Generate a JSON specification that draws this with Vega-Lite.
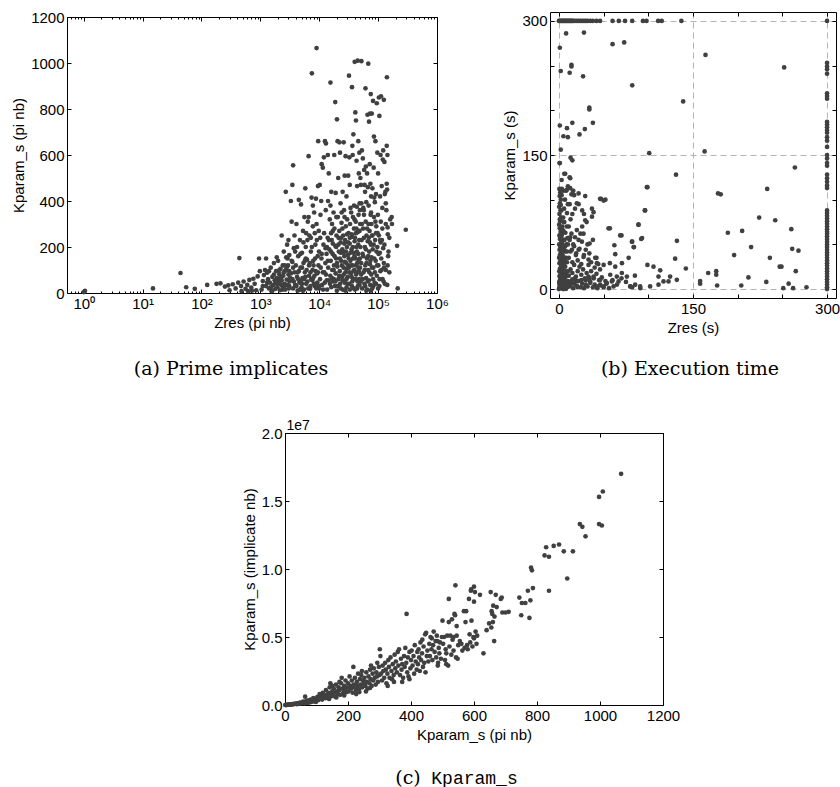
{
  "$schema": "https://vega.github.io/schema/vega-lite/v6.json",
  "background": "white",
  "padding": {"left": 11, "top": 9, "right": 0, "bottom": 0},
  "config": {
    "view": {"stroke": "#000", "strokeWidth": 1},
    "axis": {
      "domain": false, "grid": false, "tickColor": "#000", "tickWidth": 1, "tickSize": -4,
      "labelPadding": 7, "labelFont": "Liberation Sans", "labelFontSize": 15, "labelColor": "#000",
      "labelFlush": false, "labelOverlap": false,
      "titleFont": "Liberation Sans", "titleFontSize": 15, "titleFontWeight": "normal", "titleColor": "#000", "titlePadding": 4
    },
    "title": {"font": "DejaVu Serif", "fontSize": 19, "fontWeight": "normal", "color": "#000", "orient": "bottom", "anchor": "middle", "offset": 28}
  },
  "datasets": {
    "pa": [
      {"z":1,"k":4},{"z":1.05,"k":9},{"z":15,"k":20},{"z":44,"k":87},{"z":55,"k":25},{"z":77,"k":18},{"z":125,"k":35},{"z":180,"k":40},{"z":210,"k":42},{"z":250,"k":28},{"z":285,"k":33},{"z":300,"k":12},{"z":340,"k":38},{"z":380,"k":20},{"z":420,"k":45},{"z":440,"k":152},{"z":470,"k":30},{"z":520,"k":50},{"z":560,"k":18},{"z":600,"k":35},{"z":650,"k":57},{"z":700,"k":24},{"z":760,"k":62},{"z":800,"k":40},{"z":850,"k":12},{"z":900,"k":72},{"z":950,"k":150},{"z":980,"k":95},{"z":720,"k":10},{"z":620,"k":8},{"z":480,"k":8},
      {"z":1050,"k":15},{"z":1100,"k":52},{"z":1150,"k":78},{"z":1200,"k":100},{"z":1250,"k":30},{"z":1300,"k":88},{"z":1350,"k":60},{"z":1400,"k":20},{"z":1450,"k":45},{"z":1500,"k":110},{"z":1550,"k":8},{"z":1600,"k":70},{"z":1650,"k":35},{"z":1700,"k":130},{"z":1750,"k":55},{"z":1800,"k":18},{"z":1850,"k":95},{"z":1900,"k":65},{"z":1950,"k":25},{"z":2000,"k":140},{"z":2050,"k":48},{"z":2100,"k":82},{"z":2150,"k":12},{"z":2200,"k":105},{"z":2250,"k":62},{"z":2300,"k":250},{"z":2350,"k":30},{"z":2400,"k":120},{"z":2450,"k":75},{"z":2500,"k":180},{"z":2550,"k":40},{"z":2600,"k":95},{"z":2650,"k":15},{"z":2700,"k":440},{"z":2750,"k":155},{"z":2800,"k":58},{"z":2850,"k":210},{"z":2900,"k":35},{"z":2950,"k":120},{"z":3000,"k":80},{"z":3050,"k":20},{"z":3100,"k":165},{"z":3150,"k":50},{"z":1250,"k":150},{"z":1400,"k":95},{"z":1600,"k":10},{"z":1900,"k":155},{"z":2200,"k":38},{"z":2600,"k":120},{"z":3000,"k":230},{"z":1800,"k":50},{"z":2100,"k":60},{"z":2400,"k":15},{"z":2700,"k":100},{"z":3100,"k":95},
      {"z":1100,"k":30},{"z":1300,"k":45},{"z":1500,"k":25},{"z":1700,"k":80},{"z":1900,"k":40},{"z":2100,"k":100},{"z":2300,"k":55},{"z":2500,"k":90},{"z":2700,"k":35},{"z":2900,"k":150},{"z":3100,"k":30},
      {"z":3300,"k":400},{"z":3400,"k":310},{"z":3500,"k":470},{"z":3600,"k":555},{"z":3800,"k":250},{"z":3400,"k":140},{"z":3500,"k":60},{"z":3600,"k":20},{"z":3700,"k":195},{"z":3800,"k":90},{"z":3900,"k":35},{"z":4000,"k":120},{"z":4100,"k":300},{"z":4200,"k":70},{"z":4300,"k":10},{"z":4400,"k":160},{"z":4500,"k":405},{"z":4600,"k":45},{"z":4700,"k":230},{"z":4800,"k":110},{"z":4900,"k":385},{"z":5000,"k":25},{"z":5100,"k":175},{"z":5200,"k":65},{"z":5300,"k":270},{"z":5400,"k":130},{"z":5500,"k":15},{"z":5600,"k":330},{"z":5700,"k":90},{"z":5800,"k":455},{"z":5900,"k":200},{"z":6000,"k":40},{"z":6200,"k":145},{"z":6400,"k":310},{"z":6600,"k":595},{"z":6700,"k":75},{"z":6800,"k":250},{"z":7000,"k":18},{"z":7200,"k":180},{"z":7400,"k":415},{"z":7500,"k":955},{"z":7600,"k":55},{"z":7800,"k":290},{"z":8000,"k":120},{"z":8200,"k":350},{"z":8400,"k":30},{"z":8600,"k":210},{"z":8800,"k":410},{"z":9000,"k":1065},{"z":9200,"k":85},{"z":9400,"k":160},{"z":9600,"k":660},{"z":9800,"k":270},{"z":3300,"k":85},{"z":3700,"k":50},{"z":4100,"k":30},{"z":4500,"k":95},{"z":4900,"k":55},{"z":5300,"k":10},{"z":5700,"k":140},{"z":6100,"k":100},{"z":6500,"k":20},{"z":6900,"k":130},{"z":7300,"k":60},{"z":7700,"k":100},{"z":8100,"k":40},{"z":8500,"k":150},{"z":8900,"k":20},{"z":9300,"k":45},{"z":9700,"k":120},{"z":3600,"k":110},{"z":4200,"k":200},{"z":4800,"k":170},{"z":5400,"k":220},{"z":6000,"k":260},{"z":6600,"k":330},{"z":7200,"k":240},{"z":7800,"k":380},{"z":8400,"k":260},{"z":9000,"k":300},{"z":9500,"k":465},{"z":4400,"k":60},{"z":5100,"k":40},{"z":5800,"k":70},{"z":6300,"k":50},{"z":7100,"k":90},{"z":7900,"k":65},{"z":8700,"k":95},{"z":9900,"k":30},
      {"z":2200,"k":70},{"z":2500,"k":25},{"z":2800,"k":110},{"z":3200,"k":65},{"z":3500,"k":135},{"z":3900,"k":180},{"z":4300,"k":90},{"z":4700,"k":15},{"z":5100,"k":110},{"z":5500,"k":60},{"z":5900,"k":150},{"z":6300,"k":230},{"z":6700,"k":120},{"z":7100,"k":30},{"z":7500,"k":200},{"z":7900,"k":140},{"z":8300,"k":75},{"z":8700,"k":40},{"z":9100,"k":230},{"z":9500,"k":90},{"z":9900,"k":180},
      {"z":10200,"k":470},{"z":10500,"k":340},{"z":11000,"k":560},{"z":11500,"k":545},{"z":12000,"k":590},{"z":12500,"k":660},{"z":13000,"k":650},{"z":13500,"k":200},{"z":14000,"k":600},{"z":14500,"k":520},{"z":15500,"k":915},{"z":15500,"k":380},{"z":16000,"k":440},{"z":16500,"k":300},{"z":17000,"k":270},{"z":18000,"k":600},{"z":18700,"k":830},{"z":19000,"k":435},{"z":20000,"k":755},{"z":20500,"k":660},{"z":21000,"k":500},{"z":22000,"k":655},{"z":22500,"k":610},{"z":23000,"k":390},{"z":24000,"k":350},{"z":25000,"k":440},{"z":26000,"k":655},{"z":27000,"k":510},{"z":28000,"k":595},{"z":29000,"k":420},{"z":32000,"k":945},{"z":31000,"k":510},{"z":32500,"k":590},{"z":33000,"k":470},{"z":34000,"k":370},{"z":36000,"k":895},{"z":36500,"k":640},{"z":37000,"k":600},{"z":38000,"k":690},{"z":39000,"k":380},{"z":40000,"k":1005},{"z":41000,"k":785},{"z":42000,"k":750},{"z":43000,"k":575},{"z":44000,"k":465},{"z":45000,"k":1010},{"z":46000,"k":660},{"z":47000,"k":520},{"z":48000,"k":610},{"z":49000,"k":360},
      {"z":10000,"k":20},{"z":10300,"k":60},{"z":10600,"k":110},{"z":10900,"k":150},{"z":11200,"k":35},{"z":11500,"k":90},{"z":11800,"k":210},{"z":12100,"k":260},{"z":12400,"k":45},{"z":12700,"k":130},{"z":13000,"k":80},{"z":13300,"k":170},{"z":13600,"k":15},{"z":13900,"k":240},{"z":14200,"k":110},{"z":14500,"k":55},{"z":14800,"k":190},{"z":15100,"k":320},{"z":15400,"k":75},{"z":15700,"k":140},{"z":16000,"k":25},{"z":16300,"k":230},{"z":16600,"k":100},{"z":16900,"k":170},{"z":17200,"k":50},{"z":17500,"k":350},{"z":17800,"k":120},{"z":18100,"k":280},{"z":18400,"k":30},{"z":18700,"k":205},{"z":19000,"k":85},{"z":19300,"k":150},{"z":19600,"k":250},{"z":19900,"k":10},{"z":20300,"k":115},{"z":20700,"k":330},{"z":21100,"k":60},{"z":21500,"k":180},{"z":21900,"k":270},{"z":22300,"k":95},{"z":22700,"k":40},{"z":23100,"k":220},{"z":23500,"k":140},{"z":23900,"k":305},{"z":24300,"k":70},{"z":24700,"k":190},{"z":25100,"k":15},{"z":25500,"k":250},{"z":25900,"k":110},{"z":26300,"k":360},{"z":26700,"k":160},{"z":27100,"k":45},{"z":27500,"k":230},{"z":27900,"k":90},{"z":28300,"k":290},{"z":28700,"k":130},{"z":29100,"k":25},{"z":29500,"k":200},{"z":29900,"k":320},{"z":30400,"k":70},{"z":30900,"k":165},{"z":31400,"k":260},{"z":31900,"k":110},{"z":32400,"k":40},{"z":32900,"k":215},{"z":33400,"k":300},{"z":33900,"k":140},{"z":34400,"k":85},{"z":34900,"k":350},{"z":35400,"k":190},{"z":35900,"k":30},{"z":36400,"k":245},{"z":36900,"k":120},{"z":37400,"k":330},{"z":37900,"k":60},{"z":38400,"k":175},{"z":38900,"k":280},{"z":39400,"k":100},{"z":39900,"k":225},{"z":40500,"k":15},{"z":41100,"k":150},{"z":41700,"k":310},{"z":42300,"k":80},{"z":42900,"k":200},{"z":43500,"k":375},{"z":44100,"k":130},{"z":44700,"k":50},{"z":45300,"k":265},{"z":45900,"k":170},{"z":46500,"k":340},{"z":47100,"k":95},{"z":47700,"k":230},{"z":48300,"k":35},{"z":48900,"k":150},{"z":49500,"k":300},{"z":10800,"k":400},{"z":12900,"k":360},{"z":14100,"k":400},{"z":15900,"k":260},{"z":17700,"k":60},{"z":19500,"k":330},{"z":21300,"k":240},{"z":22900,"k":175},{"z":24800,"k":280},{"z":26900,"k":330},{"z":28900,"k":60},{"z":31000,"k":120},{"z":33100,"k":240},{"z":35500,"k":70},{"z":37600,"k":150},{"z":39700,"k":320},{"z":42000,"k":260},{"z":44000,"k":20},{"z":46200,"k":110},{"z":48500,"k":390},
      {"z":10400,"k":240},{"z":11000,"k":170},{"z":11600,"k":15},{"z":12200,"k":90},{"z":12800,"k":195},{"z":13400,"k":55},{"z":14000,"k":140},{"z":14600,"k":230},{"z":15200,"k":40},{"z":15800,"k":180},{"z":16400,"k":65},{"z":17000,"k":215},{"z":17600,"k":100},{"z":18200,"k":160},{"z":18800,"k":50},{"z":19400,"k":200},{"z":20000,"k":130},{"z":20600,"k":30},{"z":21200,"k":210},{"z":21800,"k":75},{"z":22400,"k":150},{"z":23000,"k":20},{"z":23600,"k":240},{"z":24200,"k":120},{"z":24800,"k":55},{"z":25400,"k":175},{"z":26000,"k":80},{"z":26600,"k":215},{"z":27200,"k":135},{"z":27800,"k":10},{"z":28400,"k":180},{"z":29000,"k":105},{"z":29600,"k":255},{"z":30200,"k":40},{"z":30800,"k":220},{"z":31600,"k":150},{"z":32400,"k":90},{"z":33200,"k":15},{"z":34000,"k":175},{"z":34800,"k":120},{"z":35600,"k":255},{"z":36400,"k":50},{"z":37200,"k":200},{"z":38000,"k":95},{"z":38800,"k":20},{"z":39600,"k":160},{"z":40400,"k":240},{"z":41200,"k":60},{"z":42000,"k":120},{"z":42800,"k":280},{"z":43600,"k":180},{"z":44400,"k":90},{"z":45200,"k":30},{"z":46000,"k":210},{"z":46800,"k":145},{"z":47600,"k":60},{"z":48400,"k":270},{"z":49200,"k":110},
      {"z":50000,"k":500},{"z":51000,"k":470},{"z":52000,"k":1008},{"z":53000,"k":620},{"z":55000,"k":585},{"z":56000,"k":370},{"z":58000,"k":535},{"z":59000,"k":470},{"z":60000,"k":440},{"z":61000,"k":890},{"z":62000,"k":550},{"z":63000,"k":395},{"z":65000,"k":520},{"z":66000,"k":775},{"z":67000,"k":460},{"z":68000,"k":997},{"z":70000,"k":745},{"z":72000,"k":560},{"z":73000,"k":780},{"z":74000,"k":475},{"z":75000,"k":865},{"z":76000,"k":420},{"z":78000,"k":780},{"z":80000,"k":455},{"z":82000,"k":835},{"z":84000,"k":545},{"z":85000,"k":680},{"z":86000,"k":415},{"z":88000,"k":395},{"z":90000,"k":660},{"z":92000,"k":430},{"z":95000,"k":825},{"z":97000,"k":610},{"z":100000,"k":520},{"z":103000,"k":850},{"z":105000,"k":770},{"z":108000,"k":420},{"z":110000,"k":600},{"z":112000,"k":855},{"z":115000,"k":465},{"z":118000,"k":370},{"z":120000,"k":580},{"z":122000,"k":620},{"z":125000,"k":840},
      {"z":50500,"k":50},{"z":51500,"k":130},{"z":52500,"k":230},{"z":53500,"k":20},{"z":54500,"k":170},{"z":55500,"k":280},{"z":56500,"k":90},{"z":57500,"k":340},{"z":58500,"k":40},{"z":59500,"k":200},{"z":60500,"k":120},{"z":61500,"k":310},{"z":62500,"k":65},{"z":63500,"k":250},{"z":64500,"k":150},{"z":65500,"k":15},{"z":66500,"k":225},{"z":67500,"k":100},{"z":68500,"k":300},{"z":69500,"k":55},{"z":70500,"k":180},{"z":71500,"k":270},{"z":72500,"k":125},{"z":73500,"k":35},{"z":74500,"k":340},{"z":75500,"k":210},{"z":76500,"k":80},{"z":77500,"k":155},{"z":78500,"k":250},{"z":79500,"k":20},{"z":81000,"k":190},{"z":83000,"k":110},{"z":85000,"k":330},{"z":87000,"k":45},{"z":89000,"k":230},{"z":91000,"k":140},{"z":93000,"k":290},{"z":95000,"k":75},{"z":97000,"k":200},{"z":99000,"k":340},{"z":101000,"k":120},{"z":103000,"k":250},{"z":105000,"k":30},{"z":107000,"k":175},{"z":109000,"k":95},{"z":111000,"k":310},{"z":113000,"k":150},{"z":116000,"k":230},{"z":119000,"k":60},{"z":122000,"k":195},{"z":125000,"k":130},{"z":52000,"k":390},{"z":57000,"k":360},{"z":63000,"k":10},{"z":69000,"k":380},{"z":76000,"k":350},{"z":83000,"k":30},{"z":92000,"k":260},{"z":100000,"k":20},{"z":108000,"k":230},
      {"z":50000,"k":200},{"z":51500,"k":80},{"z":53000,"k":300},{"z":54500,"k":60},{"z":56000,"k":160},{"z":57500,"k":240},{"z":59000,"k":100},{"z":60500,"k":30},{"z":62000,"k":190},{"z":63500,"k":130},{"z":65000,"k":280},{"z":66500,"k":50},{"z":68000,"k":160},{"z":69500,"k":240},{"z":71000,"k":90},{"z":72500,"k":220},{"z":74000,"k":140},{"z":75500,"k":10},{"z":77000,"k":300},{"z":78500,"k":110},{"z":80000,"k":250},{"z":82000,"k":60},{"z":84000,"k":210},{"z":86000,"k":150},{"z":88000,"k":90},{"z":90000,"k":310},{"z":92000,"k":40},{"z":94000,"k":180},{"z":96000,"k":120},{"z":98000,"k":260},{"z":102000,"k":170},{"z":106000,"k":60},{"z":110000,"k":220},{"z":114000,"k":100},{"z":118000,"k":280},{"z":124000,"k":50},
      {"z":128000,"k":570},{"z":130000,"k":430},{"z":133000,"k":440},{"z":135000,"k":100},{"z":138000,"k":360},{"z":140000,"k":640},{"z":141000,"k":938},{"z":143000,"k":35},{"z":146000,"k":255},{"z":150000,"k":180},{"z":155000,"k":240},{"z":160000,"k":320},{"z":130000,"k":40},{"z":128000,"k":210},{"z":135000,"k":300},{"z":145000,"k":120},{"z":155000,"k":90},{"z":210000,"k":205},{"z":295000,"k":275},{"z":215000,"k":20},{"z":170000,"k":330},{"z":172000,"k":300},{"z":145000,"k":285},{"z":148000,"k":160},{"z":126000,"k":110},{"z":140000,"k":475},{"z":142000,"k":450},{"z":144000,"k":600},{"z":135000,"k":390}
    ],
    "pb": [
      {"x":0,"y":300},{"x":1,"y":300},{"x":2,"y":300},{"x":3,"y":300},{"x":4,"y":300},{"x":5,"y":300},{"x":6,"y":300},{"x":7,"y":300},{"x":8,"y":300},{"x":9,"y":300},{"x":10,"y":300},{"x":11,"y":300},{"x":12,"y":300},{"x":13,"y":300},{"x":14,"y":300},{"x":15,"y":300},{"x":16,"y":300},{"x":18,"y":300},{"x":20,"y":300},{"x":22,"y":300},{"x":24,"y":300},{"x":26,"y":300},{"x":28,"y":300},{"x":30,"y":300},{"x":32,"y":300},{"x":35,"y":300},{"x":38,"y":300},{"x":42,"y":300},{"x":46,"y":300},{"x":60,"y":300},{"x":67,"y":300},{"x":74,"y":300},{"x":82,"y":300},{"x":94,"y":300},{"x":98,"y":300},{"x":111,"y":300},{"x":115,"y":300},{"x":137,"y":300},
      {"x":300,"y":300},{"x":300,"y":253},{"x":300,"y":249},{"x":300,"y":246},{"x":300,"y":241},{"x":300,"y":219},{"x":300,"y":216},{"x":300,"y":213},{"x":300,"y":187},{"x":300,"y":184},{"x":300,"y":181},{"x":300,"y":178},{"x":300,"y":175},{"x":300,"y":170},{"x":300,"y":166},{"x":300,"y":159},{"x":300,"y":150},{"x":300,"y":146},{"x":300,"y":141},{"x":300,"y":138},{"x":300,"y":128},{"x":300,"y":124},{"x":300,"y":120},{"x":300,"y":116},{"x":300,"y":113},{"x":300,"y":88},{"x":300,"y":85},{"x":300,"y":82},{"x":300,"y":79},{"x":300,"y":76},{"x":300,"y":73},{"x":300,"y":70},{"x":300,"y":67},{"x":300,"y":64},{"x":300,"y":62},{"x":300,"y":59},{"x":300,"y":56},{"x":300,"y":53},{"x":300,"y":50},{"x":300,"y":47},{"x":300,"y":44},{"x":300,"y":41},{"x":300,"y":38},{"x":300,"y":35},{"x":300,"y":32},{"x":300,"y":29},{"x":300,"y":26},{"x":300,"y":23},{"x":300,"y":20},{"x":300,"y":17},{"x":300,"y":14},{"x":300,"y":11},{"x":300,"y":8},{"x":300,"y":5},{"x":300,"y":2},{"x":300,"y":0},
      {"x":8,"y":286},{"x":28,"y":287},{"x":1,"y":270},{"x":60,"y":274},{"x":73,"y":276},{"x":164,"y":262},{"x":252,"y":248},{"x":2,"y":244},{"x":12,"y":242},{"x":14,"y":249},{"x":14,"y":251},{"x":27,"y":238},{"x":82,"y":228},{"x":139,"y":210},{"x":34,"y":203},{"x":34,"y":201},{"x":1,"y":183},{"x":9,"y":180},{"x":15,"y":186},{"x":29,"y":179},{"x":23,"y":173},{"x":38,"y":186},{"x":5,"y":171},{"x":10,"y":170},{"x":2,"y":156},{"x":101,"y":152},{"x":163,"y":154},{"x":1,"y":141},{"x":13,"y":147},{"x":15,"y":144},{"x":6,"y":129},{"x":12,"y":125},{"x":131,"y":128},{"x":264,"y":136},{"x":3,"y":122},{"x":99,"y":114},{"x":178,"y":107},{"x":181,"y":106},{"x":233,"y":112},{"x":47,"y":101},{"x":52,"y":100},{"x":96,"y":88},{"x":89,"y":72},{"x":57,"y":68},{"x":70,"y":60},{"x":189,"y":63},{"x":205,"y":65},{"x":224,"y":80},{"x":242,"y":77},{"x":260,"y":67},{"x":82,"y":53},{"x":92,"y":56},{"x":132,"y":54},{"x":84,"y":47},{"x":215,"y":47},{"x":261,"y":45},{"x":268,"y":43},{"x":196,"y":38},{"x":236,"y":35},{"x":130,"y":34},{"x":99,"y":27},{"x":142,"y":23},{"x":247,"y":25},{"x":249,"y":25},{"x":265,"y":20},{"x":176,"y":20},{"x":176,"y":16},{"x":167,"y":18},{"x":177,"y":4},{"x":158,"y":6},{"x":158,"y":9},{"x":212,"y":13},{"x":232,"y":8},{"x":204,"y":4},{"x":257,"y":6},{"x":251,"y":1},{"x":262,"y":1},{"x":277,"y":2},{"x":91,"y":1},{"x":82,"y":2},{"x":63,"y":39},{"x":62,"y":49},
      {"x":0,"y":0},{"x":0.5,"y":2},{"x":1,"y":5},{"x":0.3,"y":8},{"x":1.5,"y":11},{"x":0.8,"y":14},{"x":2,"y":17},{"x":0.4,"y":20},{"x":1.2,"y":23},{"x":2.5,"y":26},{"x":0.6,"y":29},{"x":1.8,"y":32},{"x":0.2,"y":35},{"x":1,"y":38},{"x":2.2,"y":41},{"x":0.7,"y":44},{"x":1.5,"y":47},{"x":0.3,"y":50},{"x":2.8,"y":53},{"x":1.1,"y":56},{"x":0.5,"y":60},{"x":1.9,"y":64},{"x":0.9,"y":68},{"x":0.2,"y":72},{"x":1.4,"y":76},{"x":2.4,"y":80},{"x":0.6,"y":84},{"x":1.7,"y":88},{"x":0.3,"y":92},{"x":1.1,"y":96},{"x":2.1,"y":100},{"x":0.8,"y":104},{"x":1.4,"y":108},{"x":0.5,"y":112},
      {"x":3,"y":3},{"x":4,"y":8},{"x":5,"y":1},{"x":6,"y":12},{"x":7,"y":5},{"x":8,"y":18},{"x":9,"y":2},{"x":10,"y":9},{"x":3.5,"y":15},{"x":4.5,"y":22},{"x":5.5,"y":28},{"x":6.5,"y":35},{"x":7.5,"y":42},{"x":8.5,"y":50},{"x":9.5,"y":57},{"x":3.2,"y":30},{"x":4.2,"y":38},{"x":5.2,"y":46},{"x":6.2,"y":55},{"x":7.2,"y":63},{"x":3.8,"y":70},{"x":4.8,"y":80},{"x":5.8,"y":90},{"x":6.8,"y":100},{"x":8,"y":110},{"x":3,"y":60},{"x":4,"y":50},{"x":5,"y":65},{"x":3.3,"y":45},{"x":2.7,"y":88},{"x":6,"y":75},{"x":9,"y":30},{"x":10,"y":20},{"x":8,"y":35},{"x":7,"y":25},{"x":6,"y":3},{"x":2.5,"y":5},{"x":3.7,"y":0.5},{"x":5,"y":0},{"x":8,"y":0.3},{"x":9.5,"y":6},{"x":4.4,"y":12},{"x":7.8,"y":14},
      {"x":0.5,"y":6},{"x":1.5,"y":3},{"x":2.5,"y":9},{"x":3.5,"y":6},{"x":4.5,"y":3},{"x":5.5,"y":7},{"x":6.5,"y":9},{"x":7.5,"y":2},{"x":1,"y":15},{"x":2,"y":12},{"x":3,"y":18},{"x":4,"y":24},{"x":5,"y":16},{"x":6,"y":20},{"x":7,"y":31},{"x":2,"y":28},{"x":3,"y":35},{"x":4,"y":42},{"x":5,"y":33},{"x":6,"y":44},{"x":7,"y":48},{"x":2,"y":58},{"x":3,"y":52},{"x":4,"y":66},{"x":1,"y":78},{"x":2,"y":94},{"x":3,"y":105},{"x":9,"y":42},{"x":10,"y":50},{"x":11,"y":8},{"x":13,"y":5},{"x":15,"y":11},{"x":17,"y":6},{"x":19,"y":9},{"x":21,"y":2},{"x":25,"y":10},{"x":30,"y":5},{"x":34,"y":12},{"x":9,"y":85},{"x":10,"y":95},
      {"x":12,"y":3},{"x":14,"y":8},{"x":16,"y":1},{"x":18,"y":12},{"x":20,"y":4},{"x":22,"y":9},{"x":24,"y":2},{"x":26,"y":6},{"x":28,"y":1},{"x":30,"y":10},{"x":32,"y":3},{"x":35,"y":7},{"x":38,"y":2},{"x":40,"y":5},{"x":43,"y":1},{"x":46,"y":4},{"x":50,"y":2},{"x":53,"y":6},{"x":56,"y":1},
      {"x":11,"y":15},{"x":13,"y":22},{"x":15,"y":18},{"x":17,"y":27},{"x":19,"y":14},{"x":21,"y":20},{"x":23,"y":25},{"x":25,"y":16},{"x":27,"y":22},{"x":29,"y":12},{"x":31,"y":18},{"x":33,"y":14},{"x":36,"y":20},{"x":39,"y":12},{"x":42,"y":17},{"x":45,"y":10},{"x":48,"y":13},{"x":52,"y":9},
      {"x":11,"y":35},{"x":13,"y":42},{"x":15,"y":30},{"x":17,"y":48},{"x":19,"y":38},{"x":21,"y":32},{"x":23,"y":45},{"x":25,"y":28},{"x":12,"y":55},{"x":14,"y":62},{"x":16,"y":50},{"x":18,"y":58},{"x":20,"y":66},{"x":11,"y":70},{"x":13,"y":78},{"x":15,"y":84},{"x":12,"y":95},{"x":14,"y":106},{"x":10,"y":115},{"x":16,"y":110},{"x":17,"y":105},
      {"x":22,"y":55},{"x":24,"y":62},{"x":26,"y":70},{"x":28,"y":38},{"x":30,"y":44},{"x":32,"y":50},{"x":34,"y":40},{"x":36,"y":30},{"x":38,"y":55},{"x":40,"y":24},{"x":42,"y":35},{"x":44,"y":28},{"x":46,"y":22},{"x":60,"y":10},{"x":65,"y":5},{"x":70,"y":12},{"x":75,"y":8},{"x":80,"y":3},{"x":85,"y":15},
      {"x":0.7,"y":141},{"x":7,"y":129},{"x":12.6,"y":124},{"x":3.3,"y":112},{"x":5.2,"y":110},{"x":8.9,"y":111},{"x":12.6,"y":113},{"x":15.6,"y":110},{"x":22,"y":107},{"x":29.4,"y":104},{"x":20,"y":96},{"x":22,"y":95},{"x":46,"y":101},{"x":50,"y":99},{"x":18,"y":90},{"x":26,"y":88},{"x":28,"y":84},{"x":29.4,"y":77},{"x":36.9,"y":90},{"x":38.7,"y":86},{"x":31,"y":75},{"x":37,"y":81},{"x":5.2,"y":75},{"x":8.9,"y":70},{"x":3.3,"y":62},{"x":12.6,"y":58},{"x":5.2,"y":55},{"x":27.5,"y":62},{"x":25.7,"y":53},{"x":22,"y":44},{"x":34.3,"y":51},{"x":14.5,"y":44},{"x":19.3,"y":40},{"x":27.5,"y":36},{"x":33.1,"y":33},{"x":40.6,"y":35},{"x":33.1,"y":27},{"x":42.5,"y":29},{"x":50,"y":27},{"x":57,"y":29},{"x":63,"y":25},{"x":70.5,"y":29},{"x":78,"y":35},{"x":89,"y":72},{"x":93,"y":57},{"x":98.4,"y":114},{"x":96.5,"y":88},{"x":81.6,"y":53},{"x":83.5,"y":47},{"x":68.5,"y":60},{"x":55.5,"y":68},
      {"x":57.4,"y":16},{"x":64.8,"y":14},{"x":59.2,"y":8.5},{"x":53.6,"y":6.7},{"x":46.2,"y":10.3},{"x":38.7,"y":14},{"x":35,"y":8.5},{"x":79.7,"y":3},{"x":85.3,"y":4.9},{"x":90.9,"y":3},{"x":102,"y":3},{"x":111.4,"y":4.9},{"x":117,"y":8.5},{"x":122.6,"y":8.5},{"x":124.4,"y":14},{"x":131.9,"y":10.3},{"x":111.4,"y":14},{"x":105.8,"y":25},{"x":113.3,"y":21},{"x":76,"y":14},{"x":70.4,"y":18},{"x":66.7,"y":8.5},{"x":61.1,"y":3},{"x":50,"y":3},{"x":46.2,"y":4.9},{"x":42.4,"y":3}
    ],
    "pc": [
      {"x":2,"y":0},{"x":5,"y":0.01},{"x":8,"y":0.02},{"x":10,"y":0.02},{"x":12,"y":0.03},{"x":15,"y":0.03},{"x":18,"y":0.04},{"x":20,"y":0.05},{"x":22,"y":0.05},{"x":25,"y":0.06},{"x":28,"y":0.07},{"x":30,"y":0.08},{"x":33,"y":0.09},{"x":36,"y":0.1},{"x":40,"y":0.12},{"x":43,"y":0.13},{"x":46,"y":0.15},{"x":50,"y":0.18},{"x":48,"y":0.1},{"x":38,"y":0.06},{"x":3,"y":0},{"x":1,"y":0},{"x":6,"y":0},
      {"x":55,"y":0.15},{"x":58,"y":0.25},{"x":60,"y":0.2},{"x":62,"y":0.12},{"x":64,"y":0.61},{"x":68,"y":0.3},{"x":70,"y":0.22},{"x":72,"y":0.15},{"x":75,"y":0.35},{"x":78,"y":0.28},{"x":80,"y":0.2},{"x":82,"y":0.4},{"x":85,"y":0.32},{"x":88,"y":0.25},{"x":90,"y":0.5},{"x":92,"y":0.38},{"x":95,"y":0.3},{"x":98,"y":0.22},{"x":100,"y":0.45},
      {"x":103,"y":0.6},{"x":105,"y":0.35},{"x":108,"y":0.5},{"x":110,"y":0.8},{"x":112,"y":0.45},{"x":115,"y":0.65},{"x":118,"y":0.4},{"x":120,"y":0.9},{"x":122,"y":0.55},{"x":125,"y":0.7},{"x":128,"y":0.5},{"x":130,"y":1.1},{"x":132,"y":0.75},{"x":135,"y":0.6},{"x":138,"y":0.9},{"x":140,"y":0.45},{"x":142,"y":1.3},{"x":145,"y":0.8},{"x":148,"y":0.65},{"x":150,"y":1.0},{"x":144,"y":1.6},{"x":150,"y":1.4},
      {"x":152,"y":0.7},{"x":155,"y":1.2},{"x":158,"y":0.9},{"x":160,"y":0.6},{"x":162,"y":1.5},{"x":165,"y":1.0},{"x":168,"y":0.8},{"x":170,"y":1.3},{"x":172,"y":1.1},{"x":175,"y":0.75},{"x":178,"y":1.6},{"x":180,"y":2.0},{"x":182,"y":1.2},{"x":185,"y":0.9},{"x":188,"y":1.4},{"x":190,"y":1.1},{"x":192,"y":1.8},{"x":195,"y":0.95},{"x":198,"y":1.3},{"x":200,"y":1.6},{"x":173,"y":1.7},{"x":163,"y":0.55},{"x":188,"y":0.7},
      {"x":202,"y":1.0},{"x":205,"y":2.1},{"x":208,"y":1.4},{"x":210,"y":1.2},{"x":212,"y":1.8},{"x":215,"y":0.9},{"x":217,"y":2.8},{"x":218,"y":1.5},{"x":220,"y":1.3},{"x":222,"y":2.0},{"x":225,"y":1.1},{"x":228,"y":1.7},{"x":230,"y":1.4},{"x":232,"y":2.3},{"x":235,"y":1.2},{"x":238,"y":1.9},{"x":240,"y":1.5},{"x":242,"y":2.2},{"x":245,"y":1.3},{"x":248,"y":1.8},{"x":250,"y":1.6},{"x":244,"y":2.5},{"x":236,"y":0.95},{"x":226,"y":0.8},
      {"x":252,"y":2.0},{"x":255,"y":1.4},{"x":258,"y":2.4},{"x":260,"y":1.7},{"x":262,"y":1.2},{"x":265,"y":2.1},{"x":268,"y":1.6},{"x":270,"y":2.6},{"x":272,"y":1.9},{"x":273,"y":2.9},{"x":275,"y":1.4},{"x":278,"y":2.3},{"x":280,"y":1.8},{"x":282,"y":2.7},{"x":285,"y":2.0},{"x":288,"y":1.5},{"x":290,"y":2.4},{"x":292,"y":2.1},{"x":295,"y":1.7},{"x":298,"y":2.8},{"x":300,"y":2.2},{"x":257,"y":1.0},{"x":270,"y":1.25},{"x":293,"y":3.1},
      {"x":301,"y":4.1},{"x":303,"y":3.6},{"x":305,"y":2.3},{"x":308,"y":1.8},{"x":310,"y":2.9},{"x":312,"y":2.5},{"x":315,"y":2.0},{"x":318,"y":3.1},{"x":320,"y":2.6},{"x":322,"y":1.6},{"x":325,"y":2.3},{"x":328,"y":3.3},{"x":330,"y":2.8},{"x":332,"y":2.0},{"x":335,"y":3.5},{"x":338,"y":2.5},{"x":340,"y":1.9},{"x":342,"y":3.0},{"x":345,"y":2.2},{"x":348,"y":3.7},{"x":350,"y":2.7},{"x":326,"y":1.4},{"x":346,"y":1.7},
      {"x":352,"y":3.2},{"x":355,"y":2.4},{"x":358,"y":3.9},{"x":360,"y":2.9},{"x":362,"y":4.1},{"x":365,"y":2.2},{"x":368,"y":3.4},{"x":370,"y":2.6},{"x":372,"y":3.0},{"x":375,"y":2.0},{"x":378,"y":3.6},{"x":380,"y":2.8},{"x":382,"y":4.2},{"x":385,"y":3.1},{"x":386,"y":6.7},{"x":388,"y":2.4},{"x":390,"y":3.5},{"x":392,"y":2.1},{"x":395,"y":3.9},{"x":398,"y":2.7},{"x":400,"y":3.3},{"x":395,"y":1.9},{"x":372,"y":1.7},
      {"x":402,"y":4.0},{"x":405,"y":2.9},{"x":408,"y":3.6},{"x":410,"y":2.3},{"x":412,"y":4.4},{"x":415,"y":3.2},{"x":418,"y":2.6},{"x":420,"y":3.9},{"x":422,"y":3.0},{"x":424,"y":4.1},{"x":426,"y":3.5},{"x":428,"y":2.5},{"x":430,"y":4.6},{"x":432,"y":3.3},{"x":435,"y":3.8},{"x":438,"y":2.8},{"x":440,"y":4.3},{"x":442,"y":3.1},{"x":445,"y":5.2},{"x":448,"y":5.3},{"x":450,"y":3.6},{"x":446,"y":2.4},{"x":436,"y":4.8},
      {"x":452,"y":4.0},{"x":455,"y":3.2},{"x":458,"y":4.5},{"x":460,"y":3.6},{"x":462,"y":5.0},{"x":465,"y":4.1},{"x":466,"y":4.9},{"x":468,"y":3.3},{"x":470,"y":4.4},{"x":472,"y":5.4},{"x":475,"y":3.9},{"x":478,"y":4.7},{"x":480,"y":3.5},{"x":482,"y":5.1},{"x":484,"y":4.7},{"x":486,"y":3.1},{"x":488,"y":4.2},{"x":490,"y":3.8},{"x":492,"y":4.6},{"x":495,"y":3.4},{"x":498,"y":5.0},{"x":500,"y":6.2},{"x":502,"y":4.5},{"x":485,"y":2.9},
      {"x":505,"y":5.0},{"x":508,"y":3.3},{"x":510,"y":4.1},{"x":512,"y":3.8},{"x":515,"y":5.1},{"x":518,"y":2.9},{"x":520,"y":6.1},{"x":520,"y":7.8},{"x":522,"y":4.3},{"x":525,"y":5.1},{"x":528,"y":3.7},{"x":530,"y":6.3},{"x":532,"y":4.8},{"x":535,"y":5.0},{"x":538,"y":6.7},{"x":540,"y":6.6},{"x":541,"y":8.8},{"x":543,"y":3.5},{"x":545,"y":5.8},{"x":545,"y":5.1},{"x":548,"y":3.4},{"x":550,"y":4.4},{"x":512,"y":3.0},{"x":535,"y":4.0},
      {"x":555,"y":4.7},{"x":560,"y":4.5},{"x":563,"y":4.0},{"x":568,"y":6.9},{"x":570,"y":4.2},{"x":573,"y":6.1},{"x":575,"y":6.9},{"x":578,"y":4.4},{"x":580,"y":4.1},{"x":584,"y":7.8},{"x":586,"y":5.2},{"x":588,"y":4.6},{"x":590,"y":8.4},{"x":591,"y":8.5},{"x":592,"y":6.2},{"x":595,"y":4.3},{"x":598,"y":5.0},{"x":600,"y":8.7},{"x":600,"y":7.6},{"x":600,"y":4.9},
      {"x":603,"y":8.3},{"x":605,"y":5.4},{"x":608,"y":4.5},{"x":610,"y":5.1},{"x":619,"y":8.1},{"x":630,"y":3.8},{"x":640,"y":5.5},{"x":648,"y":6.0},{"x":653,"y":8.3},{"x":655,"y":5.7},{"x":656,"y":6.9},{"x":658,"y":6.7},{"x":660,"y":6.1},{"x":661,"y":7.3},{"x":664,"y":4.7},{"x":665,"y":6.5},{"x":669,"y":8.1},{"x":672,"y":7.2},{"x":685,"y":7.8},{"x":688,"y":7.9},{"x":690,"y":6.8},{"x":700,"y":6.8},{"x":710,"y":6.85},
      {"x":744,"y":7.9},{"x":750,"y":6.6},{"x":752,"y":7.5},{"x":763,"y":7.5},{"x":771,"y":8.4},{"x":776,"y":6.4},{"x":779,"y":7.7},{"x":781,"y":10.1},{"x":784,"y":9.9},{"x":787,"y":8.6},{"x":824,"y":11.0},{"x":829,"y":11.6},{"x":838,"y":10.9},{"x":838,"y":8.4},{"x":853,"y":11.7},{"x":870,"y":11.8},{"x":885,"y":11.3},{"x":896,"y":9.3},{"x":914,"y":11.3},{"x":936,"y":13.3},{"x":944,"y":13.1},{"x":954,"y":12.4},{"x":997,"y":15.3},{"x":997,"y":13.3},{"x":1006,"y":13.2},{"x":1009,"y":15.7},{"x":1067,"y":17.0}
    ]
  },
  "vconcat": [
    {
      "hconcat": [
        {
          "width": 370, "height": 276,
          "data": {"name": "pa"},
          "title": {"text": "(a) Prime implicates", "dx": -21, "offset": 30},
          "layer": [
            {
              "mark": {"type": "point", "filled": true, "size": 22, "color": "#404040", "opacity": 1},
              "encoding": {
                "x": {"field": "z", "type": "quantitative", "scale": {"type": "log", "domain": [0.52, 1000000], "nice": false},
                  "axis": {"orient": "bottom", "values": [1, 10, 100, 1000, 10000, 100000, 1000000], "labelExpr": "'10' + ['⁰','¹','²','³','⁴','⁵','⁶'][round(log(datum.value)/LN10)]", "title": "Zres (pi nb)"}},
                "y": {"field": "k", "type": "quantitative", "scale": {"domain": [0, 1200], "nice": false},
                  "axis": {"orient": "left", "values": [0, 200, 400, 600, 800, 1000, 1200], "format": "d", "title": "Kparam_s (pi nb)"}}
              }
            },
            {
              "mark": {"type": "point", "opacity": 0},
              "encoding": {
                "x": {"field": "z", "type": "quantitative", "scale": {"type": "log", "domain": [0.52, 1000000], "nice": false},
                  "axis": {"orient": "top", "values": [1, 10, 100, 1000, 10000, 100000, 1000000], "labels": false, "title": null}},
                "y": {"field": "k", "type": "quantitative", "scale": {"domain": [0, 1200], "nice": false},
                  "axis": {"orient": "right", "values": [0, 200, 400, 600, 800, 1000, 1200], "labels": false, "title": null}}
              }
            },
            {
              "mark": {"type": "point", "opacity": 0},
              "encoding": {
                "x": {"field": "z", "type": "quantitative", "scale": {"type": "log", "domain": [0.52, 1000000], "nice": false},
                  "axis": {"orient": "bottom", "tickSize": -2, "labels": false, "title": null,
                    "values": [0.6,0.7,0.8,0.9,2,3,4,5,6,7,8,9,20,30,40,50,60,70,80,90,200,300,400,500,600,700,800,900,2000,3000,4000,5000,6000,7000,8000,9000,20000,30000,40000,50000,60000,70000,80000,90000,200000,300000,400000,500000,600000,700000,800000,900000]}},
                "y": {"field": "k", "type": "quantitative", "scale": {"domain": [0, 1200], "nice": false}, "axis": null}
              }
            },
            {
              "mark": {"type": "point", "opacity": 0},
              "encoding": {
                "x": {"field": "z", "type": "quantitative", "scale": {"type": "log", "domain": [0.52, 1000000], "nice": false},
                  "axis": {"orient": "top", "tickSize": -2, "labels": false, "title": null,
                    "values": [0.6,0.7,0.8,0.9,2,3,4,5,6,7,8,9,20,30,40,50,60,70,80,90,200,300,400,500,600,700,800,900,2000,3000,4000,5000,6000,7000,8000,9000,20000,30000,40000,50000,60000,70000,80000,90000,200000,300000,400000,500000,600000,700000,800000,900000]}},
                "y": {"field": "k", "type": "quantitative", "scale": {"domain": [0, 1200], "nice": false}, "axis": null}
              }
            }
          ],
          "resolve": {"axis": {"x": "independent", "y": "independent"}}
        },
        {
          "width": 286, "height": 286,
          "data": {"name": "pb"},
          "title": {"text": "(b) Execution time", "dx": -3, "offset": 25},
          "layer": [
            {
              "mark": {"type": "point", "filled": true, "size": 22, "color": "#404040", "opacity": 1},
              "encoding": {
                "x": {"field": "x", "type": "quantitative", "scale": {"domain": [-10, 310], "nice": false, "zero": false},
                  "axis": {"orient": "bottom", "values": [0, 150, 300], "grid": true, "gridColor": "#b4b4b4", "gridDash": [6, 4], "gridWidth": 1, "title": "Zres (s)"}},
                "y": {"field": "y", "type": "quantitative", "scale": {"domain": [-10, 310], "nice": false, "zero": false},
                  "axis": {"orient": "left", "values": [0, 150, 300], "grid": true, "gridColor": "#b4b4b4", "gridDash": [6, 4], "gridWidth": 1, "title": "Kparam_s (s)"}}
              }
            },
            {
              "mark": {"type": "point", "opacity": 0},
              "encoding": {
                "x": {"field": "x", "type": "quantitative", "scale": {"domain": [-10, 310], "nice": false, "zero": false},
                  "axis": {"orient": "top", "values": [0, 50, 100, 150, 200, 250, 300], "labels": false, "title": null}},
                "y": {"field": "y", "type": "quantitative", "scale": {"domain": [-10, 310], "nice": false, "zero": false},
                  "axis": {"orient": "right", "values": [0, 50, 100, 150, 200, 250, 300], "labels": false, "title": null}}
              }
            },
            {
              "mark": {"type": "point", "opacity": 0},
              "encoding": {
                "x": {"field": "x", "type": "quantitative", "scale": {"domain": [-10, 310], "nice": false, "zero": false},
                  "axis": {"orient": "bottom", "values": [50, 100, 200, 250], "labels": false, "title": null}},
                "y": {"field": "y", "type": "quantitative", "scale": {"domain": [-10, 310], "nice": false, "zero": false},
                  "axis": {"orient": "left", "values": [50, 100, 200, 250], "labels": false, "title": null}}
              }
            }
          ],
          "resolve": {"axis": {"x": "independent", "y": "independent"}}
        }
      ],
      "spacing": 113,
      "center": true,
      "bounds": "flush"
    },
    {
      "hconcat": [
        {
          "width": 200, "height": 10,
          "data": {"values": [{"v": 0}]},
          "mark": {"type": "point", "opacity": 0},
          "encoding": {
            "x": {"field": "v", "type": "quantitative", "axis": null},
            "y": {"field": "v", "type": "quantitative", "axis": null}
          },
          "view": {"stroke": null}
        },
        {
          "width": 378, "height": 272,
          "data": {"name": "pc"},
          "title": {"text": "(c)", "dx": -66, "offset": -18},
          "layer": [
            {
              "mark": {"type": "point", "filled": true, "size": 22, "color": "#404040", "opacity": 1},
              "encoding": {
                "x": {"field": "x", "type": "quantitative", "scale": {"domain": [0, 1200], "nice": false},
                  "axis": {"orient": "bottom", "values": [0, 200, 400, 600, 800, 1000, 1200], "format": "d", "title": "Kparam_s (pi nb)"}},
                "y": {"field": "y", "type": "quantitative", "scale": {"domain": [0, 20], "nice": false},
                  "axis": {"orient": "left", "values": [0, 5, 10, 15, 20], "labelExpr": "format(datum.value / 10, '.1f')", "title": "Kparam_s (implicate nb)"}}
              }
            },
            {
              "mark": {"type": "point", "opacity": 0},
              "encoding": {
                "x": {"field": "x", "type": "quantitative", "scale": {"domain": [0, 1200], "nice": false},
                  "axis": {"orient": "top", "values": [0, 200, 400, 600, 800, 1000, 1200], "labels": false, "title": null}},
                "y": {"field": "y", "type": "quantitative", "scale": {"domain": [0, 20], "nice": false},
                  "axis": {"orient": "right", "values": [0, 5, 10, 15, 20], "labels": false, "title": null}}
              }
            },
            {
              "mark": {"type": "point", "opacity": 0},
              "encoding": {
                "x": {"field": "x", "type": "quantitative", "scale": {"domain": [0, 1200], "nice": false},
                  "axis": {"orient": "bottom", "values": [], "ticks": false, "labels": false, "title": "Kparam_s", "titleFont": "Liberation Mono", "titleFontSize": 18, "titlePadding": 64}},
                "y": {"field": "y", "type": "quantitative", "scale": {"domain": [0, 20], "nice": false},
                  "axis": {"orient": "left", "values": [], "ticks": false, "labels": false, "title": "1e7", "titleAngle": 0, "titleFontSize": 14, "titleAlign": "left", "titleBaseline": "bottom", "titleX": 1, "titleY": -1}}
              }
            }
          ],
          "resolve": {"axis": {"x": "independent", "y": "independent"}}
        }
      ],
      "spacing": 18,
      "bounds": "flush"
    }
  ],
  "spacing": 37,
  "bounds": "full"
}
